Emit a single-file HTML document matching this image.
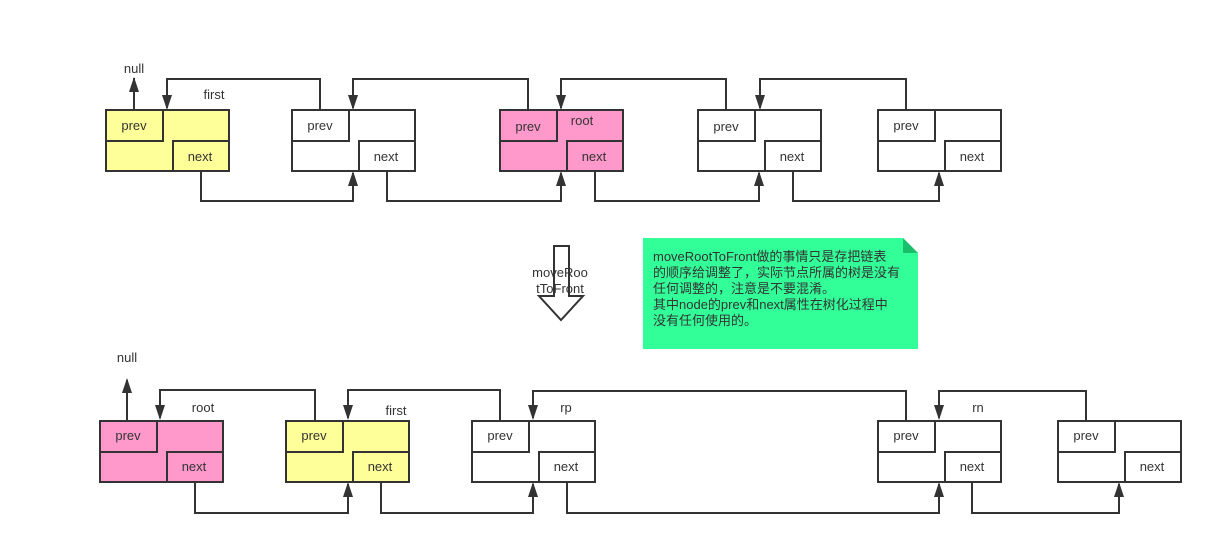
<!DOCTYPE html>
<html><head><meta charset="utf-8"><style>
body{margin:0;background:#fff;}
svg{display:block;font-family:"Liberation Sans","Noto Sans CJK SC",sans-serif;}
text{font-size:13px;fill:#333;}
</style></head><body>
<svg width="1213" height="543" viewBox="0 0 1213 543">
<defs>
<marker id="a" markerWidth="10" markerHeight="12" refX="5" refY="11" orient="auto-start-reverse" markerUnits="userSpaceOnUse" viewBox="0 0 10 12">
<path d="M0,0 L10,0 L5,12 Z" fill="#333"/></marker>
</defs>
<g fill="none" stroke="#333" stroke-width="2">
<!-- top connectors -->
<path d="M134,110 V78" marker-end="url(#u)"/>
<path d="M320,110 V79 H167 V108"/>
<path d="M528,110 V79 H353 V108"/>
<path d="M726,110 V79 H561 V108"/>
<path d="M906,110 V79 H760 V108"/>
<path d="M201,171 V201 H353 V173"/>
<path d="M387,171 V201 H561 V173"/>
<path d="M595,171 V201 H759 V173"/>
<path d="M793,171 V201 H939 V173"/>
<!-- bottom -->
<path d="M127,420 V380"/>
<path d="M315,420 V390 H160 V418"/>
<path d="M500,420 V390 H348 V418"/>
<path d="M906,420 V391 H533 V418"/>
<path d="M1086,420 V391 H939 V418"/>
<path d="M195,482 V513 H348 V484"/>
<path d="M381,482 V513 H533 V484"/>
<path d="M567,482 V513 H939 V484"/>
<path d="M972,482 V513 H1119 V484"/>
</g>
<g fill="#333">
<!-- down heads -->
<path d="M162,95 h10 l-5,15z"/><path d="M348,95 h10 l-5,15z"/><path d="M556,95 h10 l-5,15z"/><path d="M755,95 h10 l-5,15z"/>
<path d="M155,405 h10 l-5,15z"/><path d="M343,405 h10 l-5,15z"/><path d="M528,405 h10 l-5,15z"/><path d="M934,405 h10 l-5,15z"/>
<!-- up heads -->
<path d="M129,92 h10 l-5,-15z"/><path d="M122,393 h10 l-5,-15z"/>
<path d="M348,186 h10 l-5,-15z"/><path d="M556,186 h10 l-5,-15z"/><path d="M754,186 h10 l-5,-15z"/><path d="M934,186 h10 l-5,-15z"/>
<path d="M343,497 h10 l-5,-15z"/><path d="M528,497 h10 l-5,-15z"/><path d="M934,497 h10 l-5,-15z"/><path d="M1114,497 h10 l-5,-15z"/>
</g>
<g stroke="#333" stroke-width="2">
<!-- nodes top y=110 -->
<g transform="translate(106,110)"><rect width="123" height="61" fill="#ffff99"/><rect width="57" height="31" fill="#ffff99"/><rect x="67" y="31" width="56" height="30" fill="#ffff99"/></g>
<g transform="translate(292,110)"><rect width="123" height="61" fill="#fff"/><rect width="57" height="31" fill="#fff"/><rect x="67" y="31" width="56" height="30" fill="#fff"/></g>
<g transform="translate(500,110)"><rect width="123" height="61" fill="#ff99cc"/><rect width="57" height="31" fill="#ff99cc"/><rect x="67" y="31" width="56" height="30" fill="#ff99cc"/></g>
<g transform="translate(698,110)"><rect width="123" height="61" fill="#fff"/><rect width="57" height="31" fill="#fff"/><rect x="67" y="31" width="56" height="30" fill="#fff"/></g>
<g transform="translate(878,110)"><rect width="123" height="61" fill="#fff"/><rect width="57" height="31" fill="#fff"/><rect x="67" y="31" width="56" height="30" fill="#fff"/></g>
<!-- bottom y=421 -->
<g transform="translate(100,421)"><rect width="123" height="61" fill="#ff99cc"/><rect width="57" height="31" fill="#ff99cc"/><rect x="67" y="31" width="56" height="30" fill="#ff99cc"/></g>
<g transform="translate(286,421)"><rect width="123" height="61" fill="#ffff99"/><rect width="57" height="31" fill="#ffff99"/><rect x="67" y="31" width="56" height="30" fill="#ffff99"/></g>
<g transform="translate(472,421)"><rect width="123" height="61" fill="#fff"/><rect width="57" height="31" fill="#fff"/><rect x="67" y="31" width="56" height="30" fill="#fff"/></g>
<g transform="translate(878,421)"><rect width="123" height="61" fill="#fff"/><rect width="57" height="31" fill="#fff"/><rect x="67" y="31" width="56" height="30" fill="#fff"/></g>
<g transform="translate(1058,421)"><rect width="123" height="61" fill="#fff"/><rect width="57" height="31" fill="#fff"/><rect x="67" y="31" width="56" height="30" fill="#fff"/></g>
</g>
<g text-anchor="middle">
<text x="134" y="130">prev</text><text x="200" y="161">next</text>
<text x="320" y="130">prev</text><text x="386" y="161">next</text>
<text x="528" y="131">prev</text><text x="594" y="161">next</text>
<text x="726" y="131">prev</text><text x="792" y="161">next</text>
<text x="906" y="130">prev</text><text x="972" y="161">next</text>
<text x="128" y="440">prev</text><text x="194" y="471">next</text>
<text x="314" y="440">prev</text><text x="380" y="471">next</text>
<text x="500" y="440">prev</text><text x="566" y="471">next</text>
<text x="906" y="440">prev</text><text x="972" y="471">next</text>
<text x="1086" y="440">prev</text><text x="1152" y="471">next</text>
<text x="134" y="73">null</text><text x="127" y="362">null</text>
<text x="214" y="99">first</text><text x="582" y="125">root</text>
<text x="203" y="412">root</text><text x="396" y="415">first</text>
<text x="566" y="412">rp</text><text x="978" y="412">rn</text>
</g>
<!-- hollow arrow -->
<path d="M554,246 H569 V296 H583 L561,320 L539,296 H554 Z" fill="#fff" stroke="#333" stroke-width="2"/>
<text x="560" y="277" text-anchor="middle">moveRoo</text>
<text x="560" y="293" text-anchor="middle">tToFront</text>
<!-- note -->
<path d="M643,238 H903 L918,253 V349 H643 Z" fill="#33ff99"/>
<path d="M903,238 L918,253 H903 Z" fill="#19bf6a"/>
<g font-size="13">
<text x="653" y="261">moveRootToFront做的事情只是存把链表</text>
<text x="653" y="277">的顺序给调整了，实际节点所属的树是没有</text>
<text x="653" y="293">任何调整的，注意是不要混淆。</text>
<text x="653" y="309">其中node的prev和next属性在树化过程中</text>
<text x="653" y="325">没有任何使用的。</text>
</g>
</svg>
</body></html>
